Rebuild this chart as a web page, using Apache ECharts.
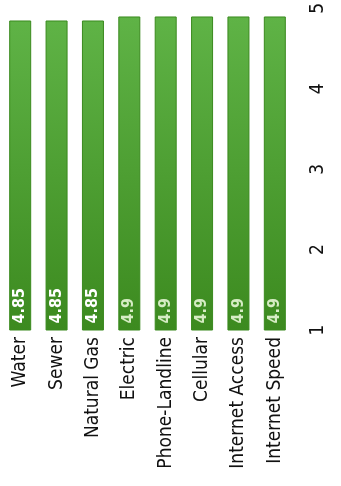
<!DOCTYPE html>
<html>
<head>
<meta charset="utf-8">
<script src="https://cdn.jsdelivr.net/npm/echarts@6/dist/echarts.min.js"></script>
<style>
  html, body { margin: 0; padding: 0; background: #fff; }
  #chart { width: 341px; height: 486px; }
</style>
</head>
<body>
<div id="chart"></div>
<script>
// services, rated 1 to 5 (chart is drawn rotated, labels read bottom-to-top)
const categories = ['Water', 'Sewer', 'Natural Gas', 'Electric', 'Phone-Landline', 'Cellular', 'Internet Access', 'Internet Speed']
const ratings = [4.85, 4.85, 4.85, 4.9, 4.9, 4.9, 4.9, 4.9]
const valueTicks = [1, 2, 3, 4, 5]

const FONT = '"DejaVu Sans Condensed", "Open Sans", sans-serif'

const chart = echarts.init(document.getElementById('chart'))

const barColor = new echarts.graphic.LinearGradient(0, 0, 0, 1, [
  { offset: 0, color: '#5fb346' },
  { offset: 1, color: '#3c8a1f' }
])

chart.setOption({
  animation: false,
  grid: { left: 2, right: 48, top: 3, bottom: 156 },
  xAxis: {
    type: 'category',
    data: categories,
    axisLine: { show: false },
    axisTick: { show: false },
    axisLabel: {
      rotate: 90,
      margin: 7,
      interval: 0,
      fontFamily: FONT,
      fontSize: 19,
      color: '#111'
    }
  },
  yAxis: {
    type: 'value',
    position: 'right',
    min: valueTicks[0],
    max: valueTicks[valueTicks.length - 1],
    interval: 1,
    splitLine: { show: false },
    axisLine: { show: false },
    axisTick: { show: false },
    axisLabel: {
      rotate: 90,
      margin: 16,
      fontFamily: FONT,
      fontSize: 19,
      color: '#111'
    }
  },
  series: [{
    type: 'bar',
    barWidth: 22,
    data: ratings.map(v => ({
      value: v,
      label: { color: v < 4.9 ? '#ffffff' : '#d6ecc4' }
    })),
    itemStyle: {
      color: barColor,
      borderColor: '#3a8a1e',
      borderWidth: 1
    },
    label: {
      show: true,
      position: 'insideBottom',
      rotate: 90,
      align: 'left',
      verticalAlign: 'middle',
      distance: 7,
      fontFamily: FONT,
      fontWeight: 'bold',
      fontSize: 16
    }
  }]
})
</script>
</body>
</html>
